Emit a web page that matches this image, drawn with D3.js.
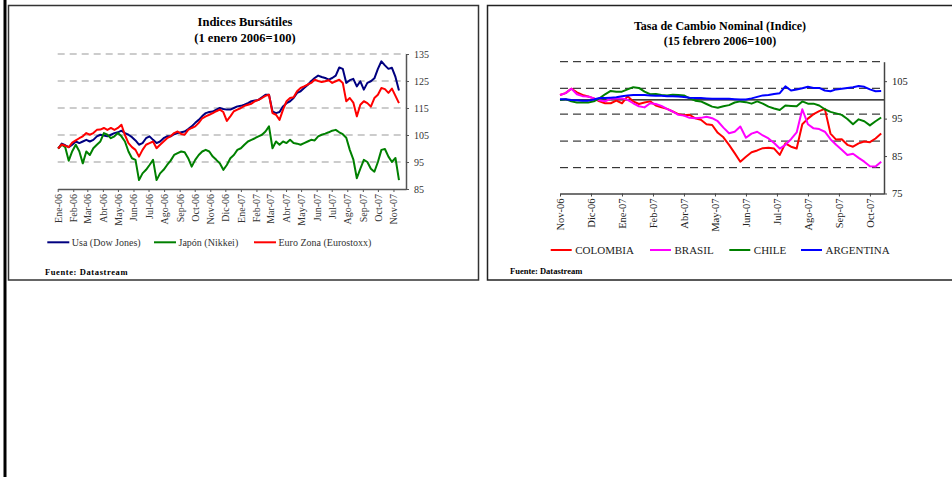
<!DOCTYPE html>
<html>
<head>
<meta charset="utf-8">
<script src="https://cdn.jsdelivr.net/npm/d3@7"></script>
<style>
  body { margin: 0; background: #fff; }
  svg { display: block; }
  text { font-family: "Liberation Serif", "Times New Roman", serif; }
</style>
</head>
<body>
<svg id="chart" width="952" height="477"></svg>
<script>
// ---- Indices bursatiles (weekly readings, 1 enero 2006 = 100) ----
const bolsaMonths = ["Ene-06","Feb-06","Mar-06","Abr-06","May-06","Jun-06","Jul-06","Ago-06","Sep-06","Oct-06","Nov-06","Dic-06",
  "Ene-07","Feb-07","Mar-07","Abr-07","May-07","Jun-07","Jul-07","Ago-07","Sep-07","Oct-07","Nov-07"];
const bolsaTicks = [85, 95, 105, 115, 125, 135];
const bolsaNames = ["Usa (Dow Jones)", "Japón (Nikkei)", "Euro Zona (Eurostoxx)"];

const usa = [100, 101.8, 101.2, 100.5, 101.4, 102.6, 102, 102.6, 103.2, 102.6, 103.2, 104.5, 105.1, 104.8, 104.5, 105.1, 105.7, 106, 106.6, 105.7,
  105.1, 104.2, 103, 101.4, 102, 103.8, 104.5, 103.2, 102, 102.6, 103.8, 104.5, 104.5, 105.3,
  105.7, 106.0, 106.3, 107.2, 108.2, 109.5, 110.6, 112.0, 113.1, 113.5, 113.7, 114.4, 115.0, 114.6, 114.4, 114.4, 115.0, 115.6, 115.8, 116.2,
  116.8, 117.5, 117.8, 118.0, 119.0, 119.9, 119.9, 113.7, 113.1, 113.5, 115.6, 116.8, 117.5,
  118.7, 120.6, 121.2, 122.4, 123.5, 124.9, 126.1, 127.0, 126.5, 126.1, 125.5, 126.1, 127.0, 130.0, 129.5, 124.3, 125.3, 125.8, 123.0, 124.9,
  121.8, 124.3, 124.9, 126.0, 129.5, 132.3, 130.8, 129.5, 129.9, 126.5, 121.5];
const japon = [100, 101.4, 100.5, 95.5, 99, 101.4, 99, 94.5, 98.9, 97.6, 100.1, 101.4, 102.6, 105.7, 105.1, 103.8, 104.5, 105.7, 104.5, 102.6,
  98.9, 96.4, 95.8, 88.3, 90.8, 92.1, 93.9, 95.8, 88.3, 90.8, 92.1, 93.9, 95.5, 97.6,
  98.3, 98.9, 98.6, 96.4, 93.3, 95.8, 97.6, 98.9, 99.5, 98.9, 97.0, 95.8, 94.5, 92.1, 93.9, 96.4, 97.6, 99.5, 100.1, 101.4,
  102.6, 103.2, 103.8, 104.5, 105.1, 106.3, 108.2, 100.1, 102.6, 101.4, 102.6, 102.0, 103.2,
  102.0, 101.8, 101.4, 102.0, 102.6, 103.2, 103.0, 104.5, 105.1, 105.5, 106.0, 106.6, 106.9, 106.0, 105.3, 104.0, 99.5, 96.0, 89.0, 92.5,
  95.8, 95.0, 92.5, 91.4, 95.0, 99.5, 99.8, 97.0, 95.0, 96.5, 88.3];
const eurozona = [100, 101.5, 101, 100.5, 102.2, 103, 103.8, 104.5, 105.7, 105.1, 105.7, 106.9, 107, 107.6, 106.9, 107.6, 106.9, 107.6, 108.8, 105,
  102, 100.5, 99.5, 97, 99.5, 101.4, 102, 102.6, 100.1, 101.4, 102.6, 103.8, 104.5, 105.7,
  106.3, 105.4, 105.1, 106.9, 107.6, 108.2, 109.5, 111.2, 111.9, 112.5, 113.1, 113.8, 114.4, 113.5, 110.2, 111.9, 113.8, 114.4, 115.0, 115.8,
  116.2, 116.6, 117.5, 118.0, 118.7, 119.5, 119.9, 113.1, 112.5, 110.6, 114.4, 117.5, 118.7,
  119.0, 121.2, 122.4, 123.0, 123.7, 124.3, 125.5, 125.0, 124.6, 124.9, 125.3, 124.3, 124.9, 125.5, 124.3, 117.5, 118.7, 117.0, 111.9, 116.2,
  117.5, 116.8, 115.5, 118.7, 119.9, 122.4, 122.0, 120.6, 122.2, 119.5, 116.8];

// ---- Tasa de cambio nominal (every 4th trading day) ----
const cambioLabels = ["Nov-06","Dic-06","Ene-07","Feb-07","Abr-07","May-07","Jun-07","Jul-07","Ago-07","Sep-07","Oct-07"];
const cambioTicks = [75, 85, 95, 105];
const cambioGrid = [81.9, 89.0, 96.2, 103.1, 110.2];
const cambioNames = ["COLOMBIA", "BRASIL", "CHILE", "ARGENTINA"];

const colombia = [101.3, 101.8, 103.0, 102.0, 101.3, 100.9, 100.4, 99.6, 99.1, 99.1, 99.8, 99.1, 101.0, 99.6, 98.9, 99.3, 99.6, 98.5, 98.0, 97.6,
  96.9, 96.2, 95.9, 96.0, 95.1, 94.7, 93.5, 93.3, 91.2, 90.0, 88.0, 85.8, 83.5, 84.8, 86.0, 86.5, 87.1, 87.2, 87.0, 85.3,
  88.4, 87.5, 87.0, 93.5, 95.0, 96.2, 97.0, 97.6, 91.0, 89.4, 89.5, 88.0, 87.5, 88.4, 88.9, 88.7, 89.7, 91.0];
const brasil = [101.3, 101.8, 103.0, 101.5, 101.0, 100.9, 100.4, 99.9, 99.6, 100.3, 100.4, 100.4, 100.0, 99.1, 98.3, 98.0, 99.1, 98.9, 98.4, 97.6,
  96.9, 96.0, 95.8, 95.2, 95.1, 95.2, 95.5, 95.1, 94.3, 92.6, 91.1, 91.5, 92.9, 89.9, 91.0, 91.5, 90.5, 89.7, 88.5, 87.0,
  88.0, 89.5, 91.3, 97.5, 93.5, 92.4, 92.2, 91.5, 89.5, 88.0, 86.7, 85.3, 85.6, 84.5, 83.5, 82.3, 82.2, 83.5];
const chile = [100.0, 100.2, 99.6, 99.3, 99.3, 99.3, 99.6, 100.4, 101.5, 102.4, 102.2, 102.2, 102.8, 103.4, 103.2, 102.2, 101.5, 101.6, 101.3, 101.2,
  101.4, 101.3, 101.2, 100.4, 99.8, 99.6, 98.9, 98.2, 97.9, 98.3, 98.6, 99.3, 99.6, 99.4, 99.0, 99.6, 99.0, 98.2, 97.7, 97.3,
  98.5, 98.4, 98.3, 99.6, 99.0, 99.0, 98.5, 97.5, 96.8, 96.4, 96.0, 94.9, 93.5, 94.8, 94.3, 93.2, 94.3, 95.3];
const argentina = [100.2, 100.2, 100.0, 99.9, 99.8, 99.8, 100.1, 100.5, 100.5, 100.6, 100.7, 101.0, 101.2, 101.3, 101.3, 101.3, 101.2, 101.1, 101.1, 101.0,
  101.0, 100.9, 100.8, 100.6, 100.5, 100.5, 100.4, 100.3, 100.3, 100.3, 100.3, 100.2, 100.1, 100.1, 100.4, 100.8, 101.2, 101.3, 101.6, 101.8,
  103.6, 102.5, 102.8, 103.1, 103.5, 103.2, 103.2, 102.5, 102.3, 102.8, 103.0, 103.2, 103.4, 103.7, 103.5, 102.8, 102.3, 102.4];

const svg = d3.select("#chart");

// page frame and the two boxes
svg.append("rect").attr("x", 3.5).attr("y", 0).attr("width", 3).attr("height", 477).attr("fill", "#000");
svg.append("rect").attr("x", 8.5).attr("y", 5.5).attr("width", 470).attr("height", 274.5)
  .attr("fill", "none").attr("stroke", "#333").attr("stroke-width", 1.5);
svg.append("rect").attr("x", 487.5).attr("y", 5.5).attr("width", 480).attr("height", 274.5)
  .attr("fill", "none").attr("stroke", "#222").attr("stroke-width", 1.5);

function styleAxis(g, color, width) {
  g.select(".domain").attr("stroke", color).attr("stroke-width", width);
  g.selectAll(".tick line").attr("stroke", color).attr("stroke-width", 1);
  g.selectAll(".tick text").attr("font-family", "Liberation Serif, Times New Roman, serif");
}

// ================= left chart =================
const bolsaDates = d3.timeMonday.range(new Date(2006, 0, 2), new Date(2007, 10, 13)).slice(0, usa.length);
const xL = d3.scaleTime().domain([new Date(2006, 0, 1), new Date(2007, 10, 26)]).range([57.7, 406]);
const yL = d3.scaleLinear().domain([85, 135]).range([189, 54]);

const left = svg.append("g");

left.append("text").attr("x", 245).attr("y", 26).attr("text-anchor", "middle")
  .attr("font-size", 12.5).attr("font-weight", "bold").text("Indices Bursátiles");
left.append("text").attr("x", 245).attr("y", 41.5).attr("text-anchor", "middle")
  .attr("font-size", 12.5).attr("font-weight", "bold").text("(1 enero 2006=100)");

left.selectAll(".gridL").data(bolsaTicks.slice(1)).enter().append("line")
  .attr("x1", xL.range()[0]).attr("x2", xL.range()[1])
  .attr("y1", d => yL(d)).attr("y2", d => yL(d))
  .attr("stroke", "#999").attr("stroke-width", 1).attr("stroke-dasharray", "7,5");

const monthTicks = d3.timeMonth.range(new Date(2006, 0, 1), new Date(2007, 10, 2));
const axL = left.append("g").attr("transform", "translate(0," + yL(85) + ")")
  .call(d3.axisBottom(xL).tickValues(monthTicks).tickFormat((d, i) => bolsaMonths[i]).tickSize(3).tickSizeOuter(0));
axL.selectAll(".tick text").attr("transform", "rotate(-90)").attr("text-anchor", "end")
  .attr("x", -5).attr("y", 0).attr("dy", "0.35em").attr("font-size", 10).attr("fill", "#333");
styleAxis(axL, "#555", 1.5);

const ayL = left.append("g").attr("transform", "translate(" + xL.range()[1] + ",0)")
  .call(d3.axisRight(yL).tickValues(bolsaTicks).tickSize(3).tickSizeOuter(0).tickPadding(5));
ayL.selectAll(".tick text").attr("font-size", 10).attr("fill", "#333");
styleAxis(ayL, "#555", 1.5);

const lineL = d3.line().x((d, i) => xL(bolsaDates[i])).y(d => yL(d));
const bolsaSeries = [usa, japon, eurozona];
const bolsaColors = ["#000080", "#008000", "#ff0000"];
bolsaSeries.forEach((s, k) => {
  left.append("path").datum(s).attr("d", lineL).attr("fill", "none")
    .attr("stroke", bolsaColors[k]).attr("stroke-width", 2).attr("stroke-linejoin", "round");
});

const legL = [47.3, 154, 254];
bolsaNames.forEach((n, k) => {
  left.append("line").attr("x1", legL[k]).attr("x2", legL[k] + 22).attr("y1", 242.3).attr("y2", 242.3)
    .attr("stroke", bolsaColors[k]).attr("stroke-width", 2);
  left.append("text").attr("x", legL[k] + 24.5).attr("y", 242.3).attr("dy", "0.35em")
    .attr("font-size", 10).attr("fill", "#333").text(n);
});

left.append("text").attr("x", 45).attr("y", 274.5).attr("font-size", 8.5).attr("font-weight", "bold")
  .attr("letter-spacing", 0.6).text("Fuente: Datastream");

// ================= right chart =================
const cambioIdx = d3.range(0, 229, 4);
const xR = d3.scaleLinear().domain([0, 230]).range([560, 884]);
const yR = d3.scaleLinear().domain([75, 110.2]).range([193.5, 61.7]);

const right = svg.append("g");

right.append("text").attr("x", 720).attr("y", 30).attr("text-anchor", "middle")
  .attr("font-size", 12).attr("font-weight", "bold").text("Tasa de Cambio Nominal (Indice)");
right.append("text").attr("x", 720).attr("y", 45).attr("text-anchor", "middle")
  .attr("font-size", 12).attr("font-weight", "bold").text("(15 febrero 2006=100)");

right.selectAll(".gridR").data(cambioGrid).enter().append("line")
  .attr("x1", xR.range()[0]).attr("x2", xR.range()[1])
  .attr("y1", d => yR(d)).attr("y2", d => yR(d))
  .attr("stroke", "#111").attr("stroke-width", 1).attr("stroke-dasharray", "8,5");

right.append("line").attr("x1", xR.range()[0]).attr("x2", xR.range()[1])
  .attr("y1", yR(100)).attr("y2", yR(100)).attr("stroke", "#000").attr("stroke-width", 1.3);

const axR = right.append("g").attr("transform", "translate(0," + yR(75) + ")")
  .call(d3.axisBottom(xR).tickValues(d3.range(0, 221, 22)).tickFormat((d, i) => cambioLabels[i]).tickSize(3).tickSizeOuter(0));
axR.selectAll(".tick text").attr("transform", "rotate(-90)").attr("text-anchor", "end")
  .attr("x", -5).attr("y", 0).attr("dy", "0.35em").attr("font-size", 10.5).attr("fill", "#222");
styleAxis(axR, "#444", 1.5);

const ayR = right.append("g").attr("transform", "translate(" + xR.range()[1] + ",0)")
  .call(d3.axisRight(yR).tickValues(cambioTicks).tickSize(3).tickSizeOuter(0).tickPadding(5));
ayR.selectAll(".tick text").attr("font-size", 10.5).attr("fill", "#222");
styleAxis(ayR, "#444", 1.5);

const lineR = d3.line().x((d, i) => xR(cambioIdx[i])).y(d => yR(d));
const cambioSeries = [colombia, brasil, chile, argentina];
const cambioColors = ["#ff0000", "#ff00ff", "#008000", "#0000ff"];
cambioSeries.forEach((s, k) => {
  right.append("path").datum(s).attr("d", lineR).attr("fill", "none")
    .attr("stroke", cambioColors[k]).attr("stroke-width", 2).attr("stroke-linejoin", "round");
});

const legR = [550.7, 650, 729.3, 801];
cambioNames.forEach((n, k) => {
  right.append("line").attr("x1", legR[k]).attr("x2", legR[k] + 21).attr("y1", 250).attr("y2", 250)
    .attr("stroke", cambioColors[k]).attr("stroke-width", 2);
  right.append("text").attr("x", legR[k] + 24.5).attr("y", 250).attr("dy", "0.35em")
    .attr("font-size", 11).attr("fill", "#222").text(n);
});

right.append("text").attr("x", 510).attr("y", 274).attr("font-size", 8.5).attr("font-weight", "bold")
  .text("Fuente: Datastream");
</script>
</body>
</html>
